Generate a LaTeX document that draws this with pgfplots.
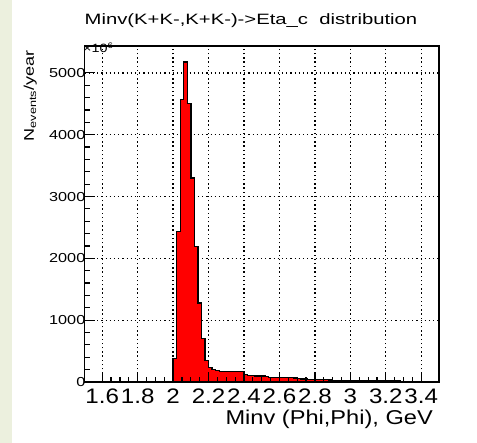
\documentclass[border=0pt]{standalone}
\usepackage{pgfplots}
\pgfplotsset{compat=1.18}
\usepackage{fontspec}
\setmainfont{Liberation Sans}
\definecolor{bggreen}{RGB}{236,240,222}
\definecolor{histred}{RGB}{255,0,0}
\newcommand{\xl}[1]{\scalebox{1.15}[1]{#1}}
\newcommand{\yl}[1]{\scalebox{1.25}[1]{#1}}
\pgfplotsset{
  common/.style={
    scale only axis, width=354.5pt, height=336pt,
    at={(84.5pt,61pt)}, anchor=south west,
    xmin=1.5, xmax=3.5, ymin=0, ymax=5435,
    xtick={1.6,1.8,2.0,2.2,2.4,2.6,2.8,3.0,3.2,3.4},
    ytick={0,1000,2000,3000,4000,5000},
    minor x tick num=3, minor y tick num=4,
  }
}
\begin{document}
\begin{tikzpicture}[x=1pt,y=1pt]
\useasboundingbox (0,0) rectangle (477,443);
\fill[white] (0,0) rectangle (477,443);
\fill[bggreen] (0,0) rectangle (12,443);
% grid + histogram
\begin{axis}[common,
  grid=major,
  major grid style={black, line width=1.3pt, dash pattern=on 1.3pt off 2.9pt},
  xticklabels={}, yticklabels={},
  major tick length=0pt, minor tick length=0pt,
  axis line style={draw=none}]
\addplot[fill=histred, draw=black, line width=1.3pt, const plot] coordinates {
(2.00,383) (2.02,2436) (2.04,4570) (2.06,5175) (2.08,4500) (2.10,3300)
(2.12,2190) (2.14,1280) (2.16,705) (2.18,350) (2.20,240) (2.22,200)
(2.24,190) (2.26,170) (2.28,165) (2.30,165) (2.32,165) (2.34,175)
(2.36,170) (2.38,165) (2.40,125) (2.42,110) (2.44,100) (2.46,97)
(2.48,97) (2.50,95) (2.52,92) (2.54,75) (2.56,72) (2.58,70)
(2.60,70) (2.62,70) (2.64,68) (2.66,68) (2.68,66) (2.70,62)
(2.72,48) (2.74,46) (2.76,45) (2.78,45) (2.80,44) (2.82,42)
(2.84,42) (2.86,40) (2.88,30) (2.90,28) (2.92,27) (2.94,26)
(2.96,26) (2.98,25) (3.00,25) (3.02,24) (3.04,23) (3.06,22)
(3.08,22) (3.10,21) (3.12,20) (3.14,19) (3.16,19) (3.18,18)
(3.20,17) (3.22,16) (3.24,15) (3.26,14) (3.28,13) (3.30,12) (3.32,12)
} \closedcycle;
\end{axis}
% frame, ticks, labels
\begin{axis}[common,
  axis line style={line width=1.8pt},
  xtick pos=bottom, ytick pos=left,
  major tick length=10pt, minor tick length=5pt,
  tick style={black, line width=1.2pt},
  xticklabels={\xl{1.6},\xl{1.8},\xl{2},\xl{2.2},\xl{2.4},\xl{2.6},\xl{2.8},\xl{3},\xl{3.2},\xl{3.4}},
  yticklabels={\yl{0},\yl{1000},\yl{2000},\yl{3000},\yl{4000},\yl{5000}},
  xticklabel style={font=\fontsize{21}{21}\selectfont, inner sep=3pt, yshift=-4pt},
  yticklabel style={font=\fontsize{13}{13}\selectfont, inner sep=3pt, xshift=4pt},
  /pgf/number format/assume math mode=true]
\end{axis}
\node[anchor=base, inner sep=0] at (251,418) {\scalebox{1.35}[1]{\fontsize{15}{15}\selectfont Minv(K+K-,K+K-)->Eta\_c\ \ distribution}};
\node[anchor=base west, inner sep=0] at (83,390) {\scalebox{1.2}[1]{\fontsize{12}{12}\selectfont ×10\textsuperscript{6}}};
\node[anchor=base east, inner sep=0] at (433,18) {\scalebox{1.18}[1]{\fontsize{20}{20}\selectfont Minv (Phi,Phi), GeV}};
\node[rotate=90, anchor=base east, inner sep=0] at (34,393) {\scalebox{1.29}[1]{\fontsize{14}{14}\selectfont N\textsubscript{events}/year}};
\end{tikzpicture}
\end{document}
